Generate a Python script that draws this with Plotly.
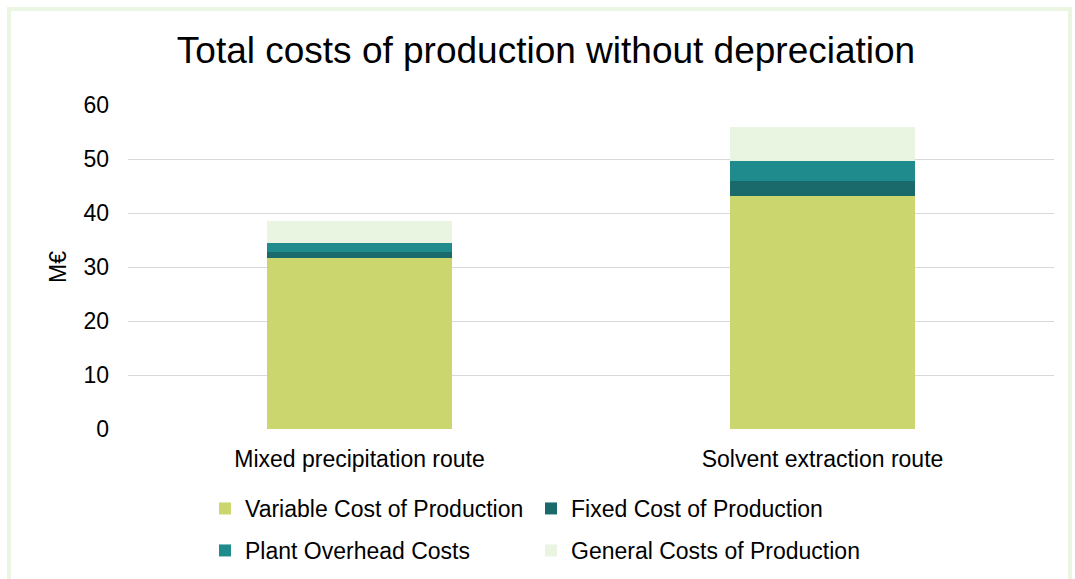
import plotly.graph_objects as go

# Cost breakdown per process route (M€)
routes = ["Mixed precipitation route", "Solvent extraction route"]
variable_cost = [31.6, 43.1]
fixed_cost = [1.2, 2.8]
plant_overhead = [1.6, 3.7]
general_costs = [4.1, 6.4]
y_ticks = [0, 10, 20, 30, 40, 50, 60]

# name, values, colour, legend id
series = [
    ("Variable Cost of Production", variable_cost, "#CBD76E", "legend2"),
    ("Fixed Cost of Production", fixed_cost, "#1B6A6B", "legend3"),
    ("Plant Overhead Costs", plant_overhead, "#1F8B8C", "legend4"),
    ("General Costs of Production", general_costs, "#E9F5E1", "legend5"),
]

fig = go.Figure()
for name, vals, color, leg in series:
    fig.add_trace(go.Bar(
        x=routes, y=vals, name=name,
        marker=dict(color=color, line=dict(width=0)),
        width=0.4,
        legend=leg,
        showlegend=True,
    ))

L, R, T, B = 128, 21, 105, 150
W, H = 1075, 579
pw, ph = W - L - R, H - T - B

def px_x(x):
    return (x - L) / pw

def px_y(y):
    return (H - B - y) / ph

FONT = "Liberation Sans, Arial, sans-serif"

def legend_at(left, top):
    return dict(
        orientation="h",
        x=px_x(left), xanchor="left",
        y=px_y(top), yanchor="top",
        font=dict(size=23, family=FONT),
        itemwidth=30,
        bgcolor="rgba(0,0,0,0)",
        visible=True,
    )

fig.update_layout(
    width=W, height=H,
    barmode="stack",
    bargap=0.6,
    showlegend=True,
    margin=dict(l=L, r=R, t=T, b=B, autoexpand=False),
    paper_bgcolor="white",
    plot_bgcolor="white",
    font=dict(family=FONT, color="#000000"),
    title=dict(
        text="Total costs of production without depreciation",
        font=dict(size=37, color="#000000"),
        x=546 / W, xref="container", xanchor="center",
        y=1 - 50 / H, yref="container", yanchor="middle",
    ),
    xaxis=dict(
        showgrid=False, showline=False, zeroline=False,
        tickfont=dict(size=23),
        ticklabelstandoff=14,
        automargin=False,
    ),
    yaxis=dict(
        range=[0, 60], tickvals=y_ticks,
        showgrid=True, gridcolor="#D9D9D9", gridwidth=1,
        zeroline=False, showline=False,
        tickfont=dict(size=23),
        ticklabelstandoff=18,
        title=dict(text="M€", font=dict(size=23), standoff=10),
        automargin=False,
    ),
    legend2=legend_at(205, 487),
    legend3=legend_at(531, 487),
    legend4=legend_at(205, 529),
    legend5=legend_at(531, 529),
    shapes=[dict(
        type="rect", xref="paper", yref="paper",
        x0=px_x(9), x1=px_x(1070), y0=px_y(590), y1=px_y(9),
        line=dict(color="#EAF5E2", width=4),
        fillcolor="rgba(0,0,0,0)", layer="below",
    )],
)

fig.write_html("out.html")
